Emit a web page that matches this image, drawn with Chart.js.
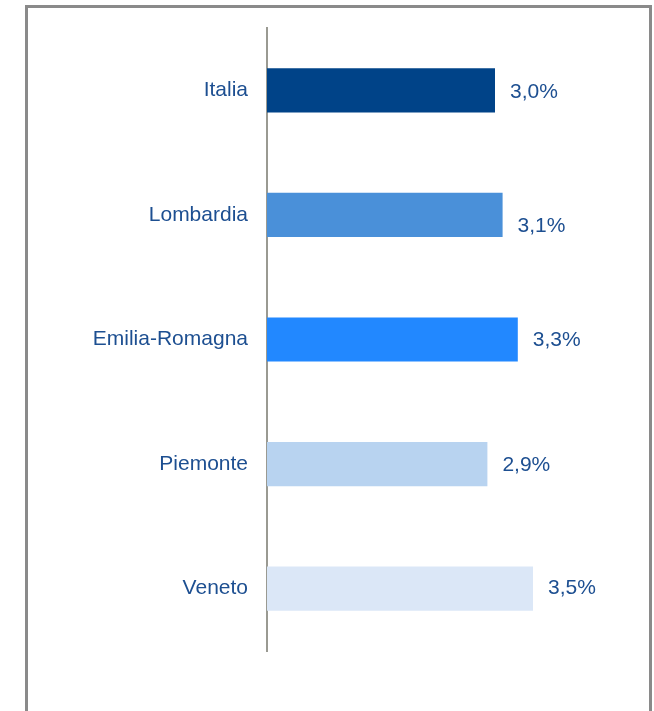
<!DOCTYPE html>
<html lang="it">
<head>
<meta charset="utf-8">
<title>Regioni</title>
<script src="https://cdn.jsdelivr.net/npm/chart.js@4.4.1/dist/chart.umd.min.js"></script>
<style>
    html, body { margin: 0; padding: 0; background: #ffffff; }
    #wrap { position: relative; width: 654px; height: 711px; overflow: hidden; }
    #cornice {
        position: absolute; left: 25px; top: 5px; width: 621px; height: 760px;
        border: 3px solid #8a8a8a;
    }
    #grafico { position: absolute; left: 0; top: 0; }
</style>
</head>
<body>
<div id="wrap">
    <div id="cornice"></div>
    <canvas id="grafico" width="654" height="711"></canvas>
</div>
<script>
// Dati del grafico
const regioni = ['Italia', 'Lombardia', 'Emilia-Romagna', 'Piemonte', 'Veneto'];
const valori = [3.0, 3.1, 3.3, 2.9, 3.5];
const colori = ['#004388', '#4a90d9', '#2288ff', '#b8d3f0', '#dbe7f7'];

const coloreTesto = '#1d4f91';
const fontTesto = '"Liberation Sans", Arial, sans-serif';

/**
 * Etichette dei valori a destra delle barre
 */
const etichetteValori = {
    id: 'etichetteValori',
    afterDatasetsDraw(chart) {
        const ctx = chart.ctx;
        const meta = chart.getDatasetMeta(0);
        // piccolo spostamento verticale come nell'originale (Lombardia più in basso)
        const spostamento = [2, 11, 1, 1, 0];
        ctx.save();
        ctx.font = '21px ' + fontTesto;
        ctx.fillStyle = coloreTesto;
        ctx.textAlign = 'left';
        ctx.textBaseline = 'middle';
        meta.data.forEach(function(bar, i) {
            const testo = valori[i].toFixed(1).replace('.', ',') + '%';
            ctx.fillText(testo, bar.x + 15, bar.y + spostamento[i]);
        });
        ctx.restore();
    }
};

document.addEventListener('DOMContentLoaded', function() {
    const ctx = document.getElementById('grafico');

    new Chart(ctx, {
        type: 'bar',
        data: {
            labels: regioni,
            datasets: [{
                data: valori,
                backgroundColor: colori,
                borderWidth: 0,
                categoryPercentage: 1,
                barPercentage: 0.355
            }]
        },
        options: {
            indexAxis: 'y',
            responsive: false,
            animation: false,
            layout: {
                padding: { left: 0, right: 7, top: 28, bottom: 60 }
            },
            plugins: {
                legend: { display: false },
                tooltip: { enabled: false }
            },
            scales: {
                x: {
                    display: false,
                    min: 0,
                    max: 5
                },
                y: {
                    grid: { display: false, drawTicks: false },
                    border: { display: true, color: '#9a9a92', width: 2 },
                    ticks: {
                        color: coloreTesto,
                        padding: 19,
                        font: { family: fontTesto, size: 21 }
                    },
                    afterFit: function(scale) {
                        scale.width = 267;
                        // niente margini extra per le etichette: l'area parte dal padding
                        scale.paddingTop = 0;
                        scale.paddingBottom = 0;
                    }
                }
            }
        },
        plugins: [etichetteValori]
    });
});
</script>
</body>
</html>
